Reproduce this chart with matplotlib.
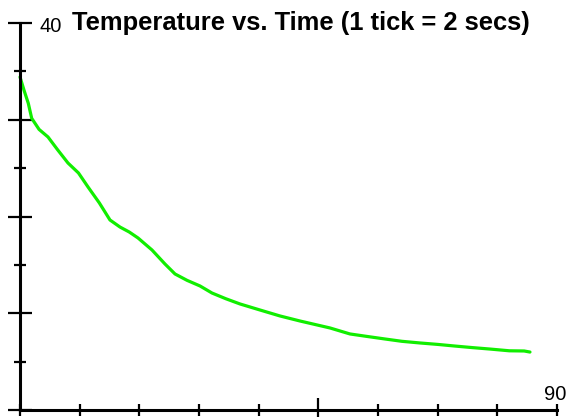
import numpy as np
import matplotlib
matplotlib.use("Agg")
import matplotlib.pyplot as plt
from matplotlib.ticker import MultipleLocator, FixedLocator

# readings (tick number, temperature)
ticks = [0, 0.7, 1.39, 1.96, 3.2, 4.69, 6.3, 8.04, 9.8, 11.4, 13.3, 15.08,
         16.76, 18.3, 19.78, 22.12, 24.3, 25.98, 28.0, 30.17, 32.18, 34.5,
         36.87, 40.2, 43.57, 46.92, 51.95, 55.3, 58.2, 61.17, 64.0, 67.0,
         70.0, 72.9, 75.8, 78.77, 82.0, 84.5, 85.47]
temps = [34.42, 33.0, 31.7, 30.15, 29.0, 28.22, 26.9, 25.53, 24.5, 23.05,
         21.4, 19.64, 18.91, 18.4, 17.78, 16.54, 15.09, 14.06, 13.4, 12.82,
         12.09, 11.5, 10.96, 10.34, 9.72, 9.20, 8.48, 7.86, 7.6, 7.34, 7.1,
         6.93, 6.78, 6.61, 6.45, 6.30, 6.12, 6.1, 5.99]

X_MAX, Y_MAX = 90, 40

plt.rcParams["font.family"] = ["Liberation Sans", "DejaVu Sans"]

fig = plt.figure(figsize=(5.66, 4.17), dpi=100)
ax = fig.add_axes([20 / 566, 1 - 410 / 417, (557 - 20) / 566, (410 - 23) / 417])

ax.plot(ticks, temps, color="#11ee00", lw=2.3, solid_capstyle="round", clip_on=False)

ax.set_xlim(0, X_MAX)
ax.set_ylim(0, Y_MAX)
ax.spines[["top", "right"]].set_visible(False)
for s in ("left", "bottom"):
    ax.spines[s].set_linewidth(2.2)

ax.yaxis.set_major_locator(MultipleLocator(10))
ax.yaxis.set_minor_locator(MultipleLocator(5))
ax.xaxis.set_major_locator(FixedLocator([50]))
ax.xaxis.set_minor_locator(FixedLocator([0, 10, 20, 30, 40, 60, 70, 80, 90]))
ax.tick_params(which="major", direction="inout", length=17, width=1.6)
ax.tick_params(which="minor", direction="inout", length=8, width=1.6)
ax.set_xticklabels([])
ax.set_yticklabels([])

fig.text(40 / 566, 1 - 32 / 417, str(Y_MAX), fontsize=14.5, ha="left", va="baseline")
fig.text(566 / 566, 1 - 400.5 / 417, str(X_MAX), fontsize=14.5, ha="right", va="baseline")
fig.text(301 / 566, 1 - 30 / 417, "Temperature vs. Time (1 tick = 2 secs)",
         fontsize=18.4, fontweight="bold", ha="center", va="baseline")

fig.savefig("out.png", dpi=100)
